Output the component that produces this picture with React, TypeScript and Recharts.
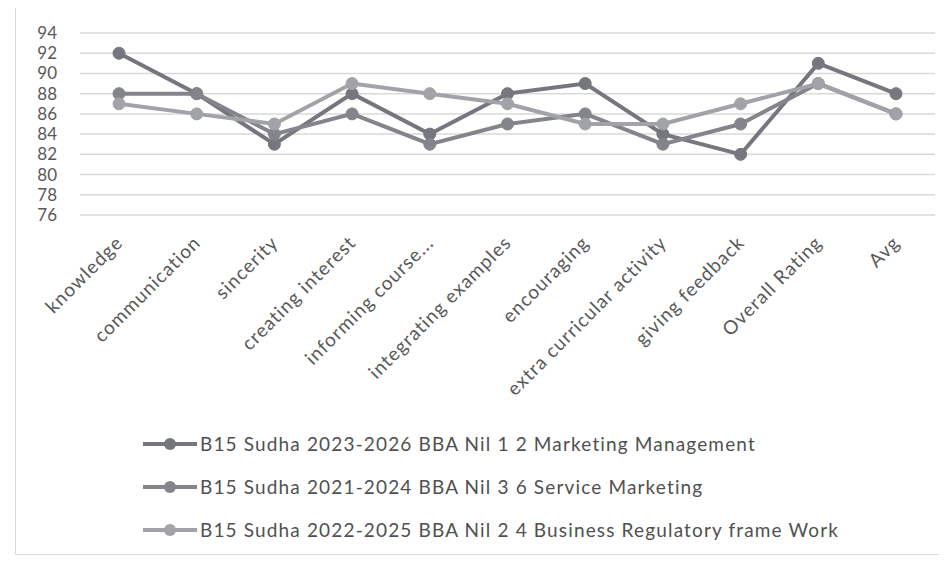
import React from "react";
import { LineChart, Line, XAxis, YAxis, CartesianGrid } from "recharts";

const categories = [
  "knowledge",
  "communication",
  "sincerity",
  "creating interest",
  "informing course...",
  "integrating examples",
  "encouraging",
  "extra curricular activity",
  "giving feedback",
  "Overall Rating",
  "Avg",
];

const seriesNames = [
  "B15 Sudha 2023-2026 BBA Nil 1 2 Marketing Management",
  "B15 Sudha 2021-2024 BBA Nil 3 6 Service Marketing",
  "B15 Sudha 2022-2025 BBA Nil 2 4 Business Regulatory frame Work",
];

const marketingManagement = [92, 88, 83, 88, 84, 88, 89, 84, 82, 91, 88];
const serviceMarketing = [88, 88, 84, 86, 83, 85, 86, 83, 85, 89, 86];
const businessRegulatory = [87, 86, 85, 89, 88, 87, 85, 85, 87, 89, 86];

const yTicks = [76, 78, 80, 82, 84, 86, 88, 90, 92, 94];

const colors = ["#75767e", "#84858c", "#a2a3a8"];
const FONT = "Lato, 'Open Sans', sans-serif";

const data = categories.map((c, i) => ({
  name: c,
  s1: marketingManagement[i],
  s2: serviceMarketing[i],
  s3: businessRegulatory[i],
}));

const XTick = (props: any) => {
  const { x, y, payload } = props;
  const ax = x + 5;
  const ay = y + 21;
  return (
    <text
      x={ax}
      y={ay}
      transform={`rotate(-45, ${ax}, ${ay})`}
      textAnchor="end"
      fill="#595959"
      fontSize={19}
      letterSpacing={1}
      fontFamily={FONT}
    >
      {payload.value}
    </text>
  );
};

const LegendBlock = () => (
  <div
    style={{
      position: "absolute",
      left: 141,
      top: 422,
      fontFamily: FONT,
      fontSize: 19,
      letterSpacing: 1.15,
      color: "#505050",
    }}
  >
    {seriesNames.map((n, i) => (
      <div key={n} style={{ display: "flex", alignItems: "center", height: 43 }}>
        <svg width={58} height={16} style={{ marginRight: 1 }}>
          <line x1={2} y1={8} x2={56} y2={8} stroke={colors[i]} strokeWidth={4} />
          <circle cx={29} cy={8} r={6} fill={colors[i]} />
        </svg>
        <span>{n}</span>
      </div>
    ))}
  </div>
);

export default function App() {
  return (
    <div
      style={{
        position: "relative",
        width: 947,
        height: 563,
        margin: -8,
        background: "#ffffff",
        overflow: "hidden",
      }}
    >
      <div
        style={{
          position: "absolute",
          left: 15,
          top: 5,
          width: 940,
          height: 550,
          border: "1px solid #d9d9d9",
          boxSizing: "border-box",
        }}
      />
      <div style={{ position: "absolute", left: 0, top: 0 }}>
        <LineChart
          width={947}
          height={563}
          data={data}
          margin={{ top: 33, right: 12, bottom: 228, left: 20 }}
        >
          <CartesianGrid vertical={false} stroke="#d9d9d9" strokeWidth={1.5} />
          <XAxis
            dataKey="name"
            interval={0}
            axisLine={false}
            tickLine={false}
            height={120}
            padding={{ left: 39, right: 39 }}
            tick={<XTick />}
          />
          <YAxis
            domain={[76, 94]}
            ticks={yTicks}
            interval={0}
            width={60}
            axisLine={false}
            tickLine={false}
            tickMargin={17}
            tick={{ fill: "#595959", fontSize: 17, fontFamily: FONT }}
          />
          <Line type="linear" dataKey="s1" name={seriesNames[0]} stroke={colors[0]} strokeWidth={4}
            dot={{ r: 6, fill: colors[0], stroke: colors[0], strokeWidth: 1 }} isAnimationActive={false} />
          <Line type="linear" dataKey="s2" name={seriesNames[1]} stroke={colors[1]} strokeWidth={4}
            dot={{ r: 6, fill: colors[1], stroke: colors[1], strokeWidth: 1 }} isAnimationActive={false} />
          <Line type="linear" dataKey="s3" name={seriesNames[2]} stroke={colors[2]} strokeWidth={4}
            dot={{ r: 6, fill: colors[2], stroke: colors[2], strokeWidth: 1 }} isAnimationActive={false} />
        </LineChart>
      </div>
      <LegendBlock />
    </div>
  );
}
